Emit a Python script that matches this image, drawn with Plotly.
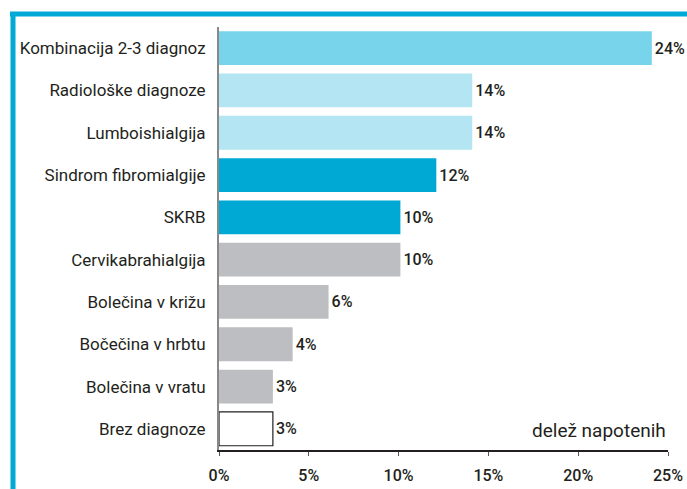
import plotly.graph_objects as go

categories = ["Kombinacija 2-3 diagnoz", "Radiološke diagnoze", "Lumboishialgija",
              "Sindrom fibromialgije", "SKRB", "Cervikabrahialgija",
              "Bolečina v križu", "Bočečina v hrbtu", "Bolečina v vratu", "Brez diagnoze"]
values = [24.1, 14.1, 14.1, 12.1, 10.1, 10.1, 6.1, 4.1, 3.0, 3.0]
value_labels = ["24%", "14%", "14%", "12%", "10%", "10%", "6%", "4%", "3%", "3%"]
bar_colors = ["#78D4EA", "#B4E5F2", "#B4E5F2", "#00A8D4", "#00A8D4",
              "#BDBEC1", "#BDBEC1", "#BDBEC1", "#BDBEC1", "#FFFFFF"]
line_widths = [0, 0, 0, 0, 0, 0, 0, 0, 0, 1.2]
tick_vals = [0, 5, 10, 15, 20, 25]
tick_text = ["0%", "5%", "10%", "15%", "20%", "25%"]
axis_title = "delež napotenih"

W, H = 687, 489
ML, MR, MT, MB = 219, 19, 27, 39
PW, PH = W - ML - MR, H - MT - MB
TXT = "#231F20"
FONT = "Roboto"
BLUE = "#00A9D6"

fig = go.Figure(go.Bar(
    x=values, y=categories, orientation="h",
    marker=dict(color=bar_colors, line=dict(color="#231F20", width=line_widths)),
    width=0.8,
    text=value_labels, textposition="outside", cliponaxis=False,
    textfont=dict(family=FONT, size=16, color=TXT, weight=500),
    hoverinfo="skip",
))

def px_x(p):
    return (p - ML) / PW

def px_y(p):
    return (H - MB - p) / PH

fig.update_layout(
    width=W, height=H,
    margin=dict(l=ML, r=MR, t=MT, b=MB, pad=0, autoexpand=False),
    paper_bgcolor="white", plot_bgcolor="white",
    showlegend=False,
    font=dict(family=FONT, size=16, color=TXT),
    xaxis=dict(range=[0, 25], tickvals=tick_vals, ticktext=tick_text, automargin=False,
               showgrid=False, zeroline=False, showline=True, linecolor="#231F20",
               linewidth=1.5, ticks="outside", ticklen=4, tickcolor="#555555",
               ticklabelstandoff=6,
               tickfont=dict(family=FONT, size=16, color=TXT, weight=500), fixedrange=True),
    yaxis=dict(autorange="reversed", showgrid=False, zeroline=False, automargin=False,
               showline=True, linecolor="#888888", linewidth=2,
               ticks="", ticklabelstandoff=8,
               tickfont=dict(family=FONT, size=17, color=TXT), fixedrange=True),
    annotations=[dict(text=axis_title, x=1, y=0, xref="paper", yref="paper",
                      xanchor="right", yanchor="bottom", yshift=6, showarrow=False,
                      font=dict(family=FONT, size=19, color=TXT))],
    shapes=[
        dict(type="line", xref="paper", yref="paper",
             x0=px_x(10), x1=px_x(W), y0=px_y(14), y1=px_y(14),
             line=dict(color=BLUE, width=5)),
        dict(type="line", xref="paper", yref="paper",
             x0=px_x(13), x1=px_x(13), y0=px_y(12), y1=px_y(H),
             line=dict(color=BLUE, width=5)),
    ],
)

fig.write_html("out.html", config={"displayModeBar": False},
               post_script="document.body.style.margin='0';")
